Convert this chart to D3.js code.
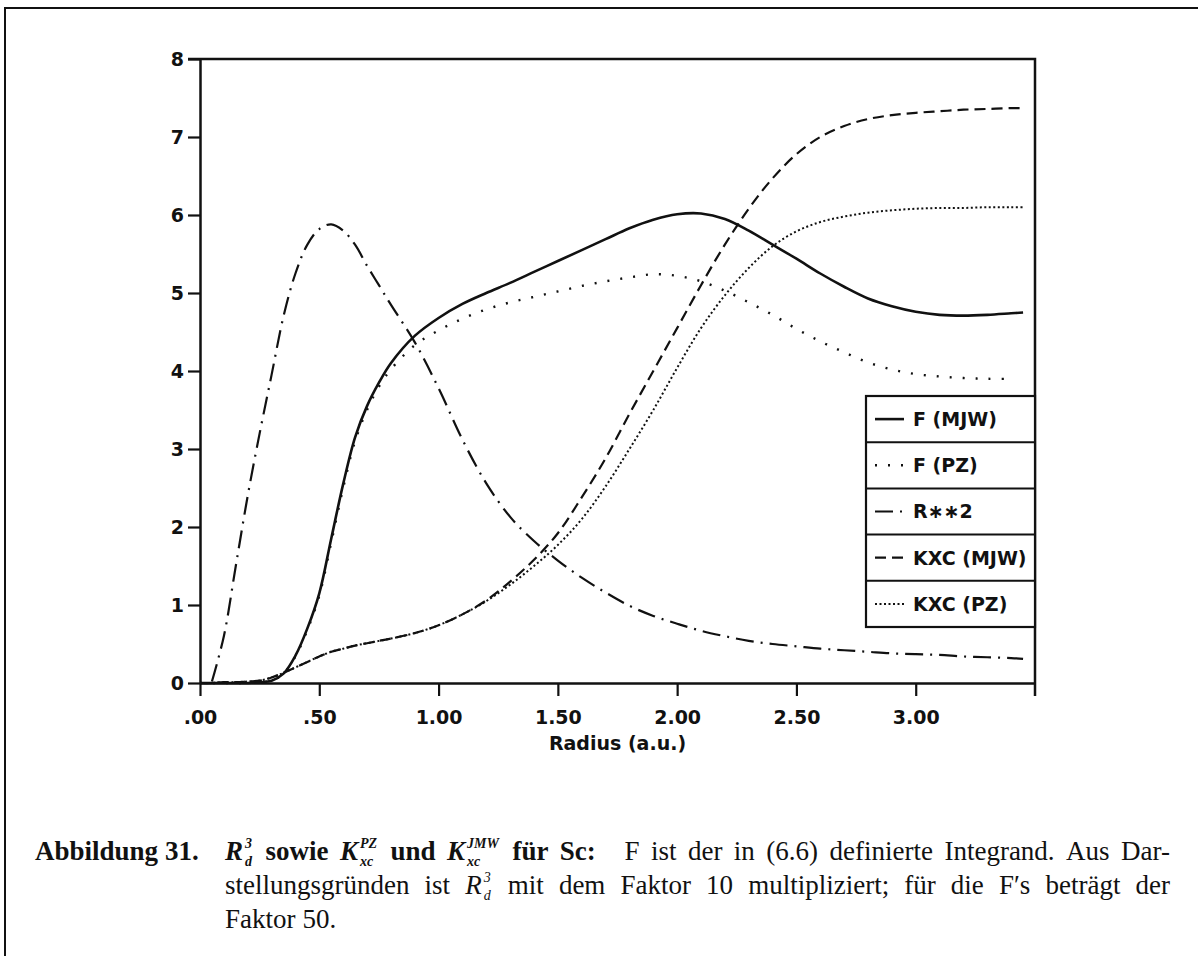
<!DOCTYPE html>
<html>
<head>
<meta charset="utf-8">
<title>Abbildung 31</title>
<script src="https://d3js.org/d3.v7.min.js"></script>
<style>
  body { margin: 0; background: #fff; }
  svg text { fill: #111; }
  .plot text { font-family: "DejaVu Sans", sans-serif; font-weight: bold; font-size: 19px; }
  .caption text { font-family: "Liberation Serif", "Times New Roman", serif; font-size: 27px; }
</style>
</head>
<body>
<div id="chart"></div>
<script>
// radius grid (a.u.), shared by every curve
var radius = [0, 0.05, 0.1, 0.15, 0.2, 0.25, 0.3, 0.35, 0.4, 0.45, 0.5, 0.55, 0.6, 0.65, 0.7, 0.75, 0.8, 0.9,
  1.0, 1.1, 1.2, 1.3, 1.4, 1.5, 1.6, 1.7, 1.8, 1.9, 2.0, 2.1, 2.2, 2.3, 2.4, 2.5, 2.6, 2.7, 2.8, 2.9,
  3.0, 3.1, 3.2, 3.3, 3.4, 3.45];

// values
var fMJW = [0, 0, 0, 0, 0, 0.01, 0.03, 0.12, 0.35, 0.7, 1.15, 1.85, 2.55, 3.15, 3.55, 3.85, 4.1, 4.45,
  4.68, 4.86, 5.0, 5.13, 5.27, 5.41, 5.55, 5.69, 5.83, 5.94, 6.01, 6.02, 5.95, 5.8, 5.62, 5.44, 5.25, 5.08, 4.93, 4.83,
  4.76, 4.72, 4.71, 4.72, 4.74, 4.75];
var fPZ = [0, 0, 0, 0, 0, 0.01, 0.03, 0.12, 0.34, 0.68, 1.12, 1.8, 2.5, 3.1, 3.5, 3.8, 4.02, 4.33,
  4.52, 4.67, 4.79, 4.88, 4.95, 5.02, 5.09, 5.15, 5.2, 5.24, 5.22, 5.15, 5.03, 4.88, 4.72, 4.54, 4.38, 4.24, 4.11, 4.02,
  3.96, 3.93, 3.91, 3.9, 3.9, null];
var rSquared = [null, 0.02, 0.6, 1.5, 2.4, 3.2, 3.95, 4.7, 5.25, 5.62, 5.82, 5.88, 5.8, 5.62, 5.35, 5.1, 4.85, 4.37,
  3.78, 3.12, 2.56, 2.13, 1.82, 1.57, 1.35, 1.16, 0.99, 0.86, 0.76, 0.67, 0.6, 0.54, 0.5, 0.47, 0.44, 0.42, 0.4, 0.38,
  0.37, 0.36, 0.34, 0.33, 0.32, 0.31];
var kxcMJW = [0, 0, 0.01, 0.01, 0.02, 0.03, 0.07, 0.13, 0.2, 0.27, 0.34, 0.4, 0.44, 0.48, 0.51, 0.54, 0.57, 0.64,
  0.74, 0.88, 1.06, 1.3, 1.58, 1.92, 2.38, 2.88, 3.45, 4.0, 4.55, 5.1, 5.62, 6.08, 6.47, 6.78, 7.0, 7.14, 7.23, 7.28,
  7.31, 7.33, 7.35, 7.36, 7.37, 7.37];
var kxcPZ = [0, 0, 0.01, 0.01, 0.02, 0.03, 0.07, 0.13, 0.2, 0.27, 0.34, 0.4, 0.44, 0.48, 0.51, 0.54, 0.57, 0.64,
  0.74, 0.88, 1.05, 1.26, 1.5, 1.77, 2.1, 2.52, 3.0, 3.5, 4.04, 4.55, 4.97, 5.32, 5.6, 5.79, 5.91, 5.98, 6.03, 6.06,
  6.08, 6.09, 6.09, 6.1, 6.1, 6.1];

var xTicks = [0, 0.5, 1, 1.5, 2, 2.5, 3];
var xTickLabels = [".00", ".50", "1.00", "1.50", "2.00", "2.50", "3.00"];
var yTicks = [0, 1, 2, 3, 4, 5, 6, 7, 8];
var legendLabels = ["F (MJW)", "F (PZ)", "R\u2217\u22172", "KXC (MJW)", "KXC (PZ)"];

var series = [
  {values: fMJW, dash: null, w: 2.6},
  {values: fPZ, dash: "2,11", w: 2.4},
  {values: rSquared, dash: "18,7,2,7", w: 2.2},
  {values: kxcMJW, dash: "11,6", w: 2.2},
  {values: kxcPZ, dash: "2,2.5", w: 2}
];

var svg = d3.select("#chart").append("svg")
    .attr("width", 1198)
    .attr("height", 956);

// page frame (left and top rule of the scanned page)
svg.append("path")
    .attr("d", "M5,956V8H1198")
    .attr("fill", "none").attr("stroke", "#111").attr("stroke-width", 2);

var x = d3.scaleLinear().domain([0, 3.5]).range([200, 1035]);
var y = d3.scaleLinear().domain([0, 8]).range([683, 59]);

var plot = svg.append("g").attr("class", "plot");

// x axis
plot.append("g")
    .attr("transform", "translate(0," + y(0) + ")")
    .call(d3.axisBottom(x).tickValues(xTicks)
      .tickFormat(function(d, i) { return xTickLabels[i]; })
      .tickSize(13).tickSizeOuter(0).tickPadding(15));

// y axis
plot.append("g")
    .attr("transform", "translate(" + x(0) + ",0)")
    .call(d3.axisLeft(y).tickValues(yTicks).tickSize(12).tickSizeOuter(0).tickPadding(4));

plot.selectAll(".domain").attr("stroke", "#111").attr("stroke-width", 2.5);
plot.selectAll(".tick line").attr("stroke", "#111").attr("stroke-width", 2.2);

// top and right border of the plot box
plot.append("path")
    .attr("d", "M" + (x(0) - 12) + "," + y(8) + "H" + x(3.5) + "V" + (y(0) + 13))
    .attr("fill", "none").attr("stroke", "#111").attr("stroke-width", 2.5);

plot.append("text")
    .attr("x", (x(0) + x(3.5)) / 2)
    .attr("y", 750)
    .attr("text-anchor", "middle")
    .text("Radius (a.u.)");

// curves
var line = d3.line()
    .defined(function(d) { return d[1] != null; })
    .x(function(d) { return x(d[0]); })
    .y(function(d) { return y(d[1]); })
    .curve(d3.curveCatmullRom.alpha(0.5));

series.forEach(function(s) {
  var pts = radius.map(function(r, i) { return [r, s.values[i]]; });
  plot.append("path")
      .attr("d", line(pts))
      .attr("fill", "none")
      .attr("stroke", "#111")
      .attr("stroke-width", s.w)
      .attr("stroke-dasharray", s.dash);
});

// legend
var lgX0 = 866, lgX1 = x(3.5), lgY0 = 396, rowH = 46.2;
var legend = plot.append("g");
legend.append("rect")
    .attr("x", lgX0).attr("y", lgY0)
    .attr("width", lgX1 - lgX0).attr("height", rowH * legendLabels.length)
    .attr("fill", "#fff").attr("stroke", "#111").attr("stroke-width", 2.2);

legendLabels.forEach(function(lab, i) {
  var cy = lgY0 + rowH * i + rowH / 2;
  if (i > 0) {
    legend.append("line")
        .attr("x1", lgX0).attr("x2", lgX1)
        .attr("y1", lgY0 + rowH * i).attr("y2", lgY0 + rowH * i)
        .attr("stroke", "#111").attr("stroke-width", 2);
  }
  legend.append("line")
      .attr("x1", lgX0 + 9).attr("x2", lgX0 + 38)
      .attr("y1", cy).attr("y2", cy)
      .attr("stroke", "#111")
      .attr("stroke-width", series[i].w)
      .attr("stroke-dasharray", series[i].dash);
  legend.append("text")
      .attr("x", lgX0 + 47).attr("y", cy)
      .attr("dy", "0.36em")
      .text(lab);
});

// caption: words are measured, then spread so lines 1 and 2 are justified
var cap = svg.append("g").attr("class", "caption");
var smallSize = "14px";

function measure(str, o) {
  var t = cap.append("text")
      .style("font-weight", o.b ? "bold" : null)
      .style("font-style", o.i ? "italic" : null)
      .style("font-size", o.fs || null)
      .text(str);
  var w = t.node().getComputedTextLength();
  t.remove();
  return w;
}

// one word = one text element; a symbol with stacked sup/sub stays in the same element
function word(p) {
  var t = cap.append("text")
      .style("font-weight", p.b ? "bold" : null)
      .style("font-style", p.i ? "italic" : null);
  t.append("tspan").text(p.t);
  var w = measure(p.t, p);
  if (p.sup != null) {
    var wSup = measure(p.sup, {b: p.b, i: true, fs: smallSize});
    var wSub = measure(p.sub, {b: p.b, i: true, fs: smallSize});
    t.append("tspan").attr("dx", 2).attr("dy", -12)
        .style("font-size", smallSize).style("font-style", "italic").text(p.sup);
    t.append("tspan").attr("dx", -wSup).attr("dy", 18)
        .style("font-size", smallSize).style("font-style", "italic").text(p.sub);
    w += 2 + Math.max(wSup, wSub) + 2;
  }
  return {w: w, place: function(px, yb) { t.attr("x", px).attr("y", yb); }};
}

function plain(str, bold) {
  return str.split(" ").map(function(w) { return {t: w, b: bold}; });
}

function setLine(x0, yb, words, x1, wide) {
  var built = words.map(word);
  var weights = words.map(function(w, i) { return i === 0 ? 0 : (wide && wide[i] ? wide[i] : 1); });
  var space = 7;
  if (x1) space = (x1 - x0 - d3.sum(built, function(b) { return b.w; })) / d3.sum(weights);
  var cx = x0;
  built.forEach(function(b, i) {
    cx += space * weights[i];
    b.place(cx, yb);
    cx += b.w;
  });
}

setLine(35, 860, plain("Abbildung 31.", true));

var line1 = [
  {t: "R", b: true, i: true, sup: "3", sub: "d"},
  {t: "sowie", b: true},
  {t: "K", b: true, i: true, sup: "PZ", sub: "xc"},
  {t: "und", b: true},
  {t: "K", b: true, i: true, sup: "JMW", sub: "xc"},
  {t: "für", b: true},
  {t: "Sc:", b: true}
].concat(plain("F ist der in (6.6) definierte Integrand. Aus Dar-"));
setLine(225, 860, line1, 1170, {7: 2.5});

var line2 = plain("stellungsgründen ist")
  .concat([{t: "R", i: true, sup: "3", sub: "d"}])
  .concat(plain("mit dem Faktor 10 multipliziert; für die F\u2032s beträgt der"));
setLine(225, 894, line2, 1170);

setLine(225, 928, plain("Faktor 50."));
</script>
</body>
</html>
